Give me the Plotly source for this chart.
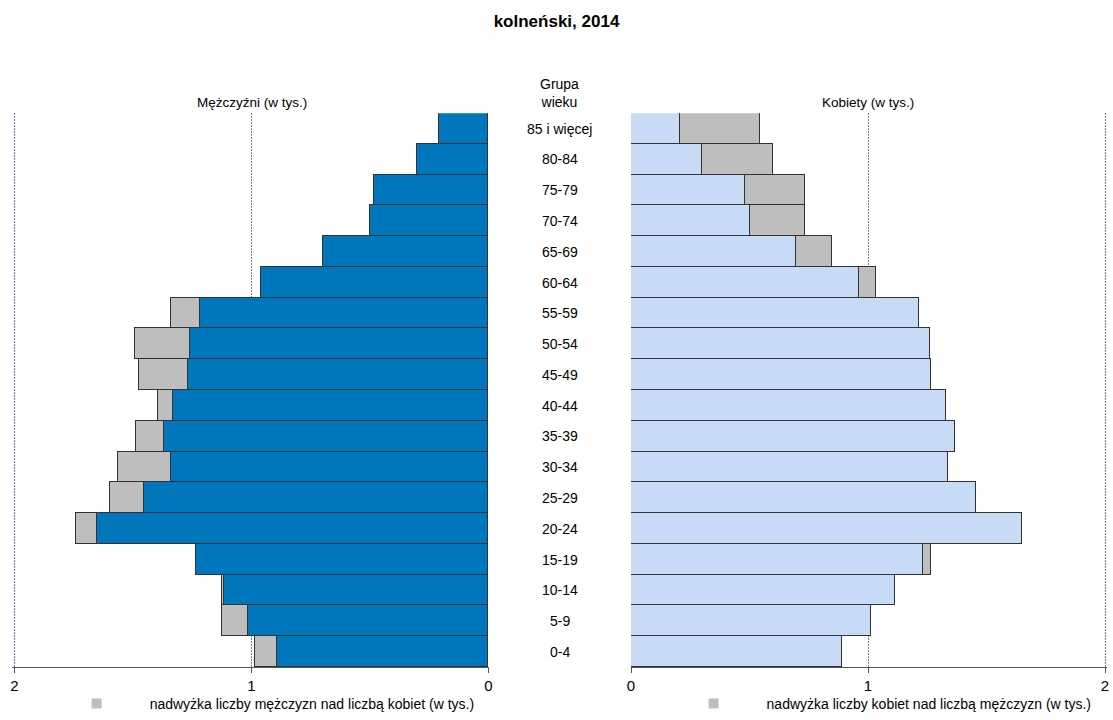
import plotly.graph_objects as go

titulo = "kolneński, 2014"
grupy = ["0-4", "5-9", "10-14", "15-19", "20-24", "25-29", "30-34", "35-39", "40-44",
         "45-49", "50-54", "55-59", "60-64", "65-69", "70-74", "75-79", "80-84", "85 i więcej"]
mezczyzni = [0.984, 1.122, 1.126, 1.233, 1.738, 1.596, 1.563, 1.487, 1.392,
             1.475, 1.493, 1.341, 0.961, 0.697, 0.500, 0.482, 0.300, 0.208]
kobiety = [0.892, 1.014, 1.115, 1.267, 1.651, 1.454, 1.339, 1.368, 1.330,
           1.267, 1.260, 1.217, 1.032, 0.848, 0.736, 0.733, 0.601, 0.543]
ticki = [0, 1, 2]

wspolne = [min(m, k) for m, k in zip(mezczyzni, kobiety)]
nadwyzka_m = [m - k if m > k else None for m, k in zip(mezczyzni, kobiety)]
nadwyzka_k = [k - m if k > m else None for m, k in zip(mezczyzni, kobiety)]

niebieski = "#0077bd"
jasny = "#c7dbf6"
szary = "#bebebe"
obrys = dict(color="#333333", width=1)
czcionka = "Arial, Liberation Sans, sans-serif"

fig = go.Figure()
fig.add_trace(go.Bar(y=grupy, x=wspolne, orientation="h", marker=dict(color=niebieski, line=obrys),
                     xaxis="x", yaxis="y", showlegend=False))
fig.add_trace(go.Bar(y=grupy, x=nadwyzka_m, orientation="h", marker=dict(color=szary, line=obrys),
                     xaxis="x", yaxis="y", showlegend=False))
fig.add_trace(go.Bar(y=grupy, x=wspolne, orientation="h", marker=dict(color=jasny, line=obrys),
                     xaxis="x2", yaxis="y2", showlegend=False))
fig.add_trace(go.Bar(y=grupy, x=nadwyzka_k, orientation="h", marker=dict(color=szary, line=obrys),
                     xaxis="x2", yaxis="y2", showlegend=False))

# legenda - dwa osobne wpisy pod wykresami
fig.add_trace(go.Scatter(x=[None], y=[None], mode="markers", xaxis="x", yaxis="y",
                         marker=dict(symbol="square", size=10, color=szary),
                         name="nadwyżka liczby mężczyzn nad liczbą kobiet (w tys.)", legend="legend"))
fig.add_trace(go.Scatter(x=[None], y=[None], mode="markers", xaxis="x2", yaxis="y2",
                         marker=dict(symbol="square", size=10, color=szary),
                         name="nadwyżka liczby kobiet nad liczbą mężczyzn (w tys.)", legend="legend2"))

# 0..2 na 474 px, zakres lekko poszerzony zeby linia przy 2 nie byla ucieta
maks = 2.01
szer = maks * 237 / 1113

os_x = dict(tickvals=ticki, ticks="outside", ticklen=5, tickcolor="#555555",
            showline=True, linecolor="#555555", linewidth=1, zeroline=False,
            showgrid=True, griddash="2px,1px", gridcolor="#6b6bff", gridwidth=1,
            tickfont=dict(size=15, color="black"), fixedrange=True, automargin=False)
os_y = dict(range=[-0.5, 17.5], showticklabels=False, showgrid=False, zeroline=False,
            showline=False, ticks="", domain=[0.0732, 0.8426], automargin=False)

adnotacje = []
for g in grupy:
    adnotacje.append(dict(x=0.5031, y=g, xref="paper", yref="y", text=g, showarrow=False,
                          xanchor="center", yanchor="middle", font=dict(size=14, color="black")))
adnotacje.append(dict(x=0.5031, y=0.871, xref="paper", yref="paper", text="Grupa<br>wieku",
                      xanchor="center", yanchor="middle", showarrow=False,
                      font=dict(size=14, color="black")))
adnotacje.append(dict(x=0.2260, y=0.857, xref="paper", yref="paper", text="Mężczyźni (w tys.)",
                      xanchor="center", yanchor="middle", showarrow=False,
                      font=dict(size=13.5, color="black")))
adnotacje.append(dict(x=0.7799, y=0.857, xref="paper", yref="paper", text="Kobiety (w tys.)",
                      xanchor="center", yanchor="middle", showarrow=False,
                      font=dict(size=13.5, color="black")))

fig.update_layout(
    title=dict(text="<b>" + titulo + "</b>", x=0.5, xanchor="center", y=0.971, yanchor="middle",
               font=dict(size=17, color="black")),
    width=1113, height=720,
    margin=dict(l=0, r=0, t=0, b=0),
    barmode="stack", bargap=0,
    plot_bgcolor="white", paper_bgcolor="white",
    font=dict(family=czcionka, color="black"),
    xaxis=dict(os_x, domain=[488.5 / 1113 - szer, 488.5 / 1113], autorange=False, range=[maks, 0]),
    yaxis=dict(os_y, anchor="x"),
    xaxis2=dict(os_x, domain=[631 / 1113, 631 / 1113 + szer], anchor="y2", range=[0, maks]),
    yaxis2=dict(os_y, anchor="x2"),
    annotations=adnotacje,
    legend=dict(x=0.0392, y=0.0, xanchor="left", yanchor="bottom", itemwidth=96,
                font=dict(size=14), bgcolor="rgba(0,0,0,0)"),
    legend2=dict(x=0.5935, y=0.0, xanchor="left", yanchor="bottom", itemwidth=96,
                 font=dict(size=14), bgcolor="rgba(0,0,0,0)"),
)

fig.write_html("out.html", config={"displayModeBar": False},
               post_script="document.body.style.margin='0';")
